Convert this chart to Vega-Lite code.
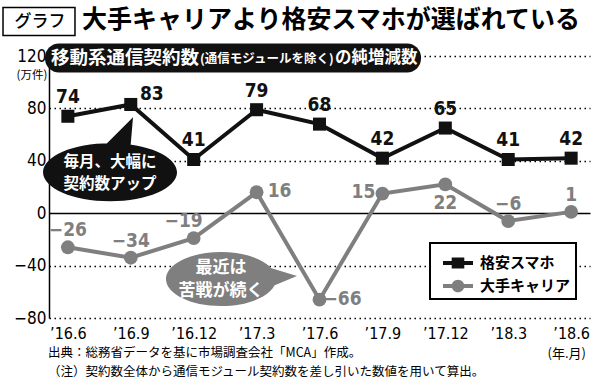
{
  "$schema": "https://vega.github.io/schema/vega-lite/v6.json",
  "width": 541,
  "height": 262,
  "autosize": {"type": "none"},
  "padding": {"left": 49, "top": 56, "right": 10, "bottom": 65},
  "background": "white",
  "config": {"view": {"stroke": null}, "font": "Noto Sans CJK JP"},
  "datasets": {
    "series": [
      {"m": "’16.6", "i": 0, "s": "格安スマホ", "v": 74},
      {"m": "’16.9", "i": 1, "s": "格安スマホ", "v": 83},
      {"m": "’16.12", "i": 2, "s": "格安スマホ", "v": 41},
      {"m": "’17.3", "i": 3, "s": "格安スマホ", "v": 79},
      {"m": "’17.6", "i": 4, "s": "格安スマホ", "v": 68},
      {"m": "’17.9", "i": 5, "s": "格安スマホ", "v": 42},
      {"m": "’17.12", "i": 6, "s": "格安スマホ", "v": 65},
      {"m": "’18.3", "i": 7, "s": "格安スマホ", "v": 41},
      {"m": "’18.6", "i": 8, "s": "格安スマホ", "v": 42},
      {"m": "’16.6", "i": 0, "s": "大手キャリア", "v": -26},
      {"m": "’16.9", "i": 1, "s": "大手キャリア", "v": -34},
      {"m": "’16.12", "i": 2, "s": "大手キャリア", "v": -19},
      {"m": "’17.3", "i": 3, "s": "大手キャリア", "v": 16},
      {"m": "’17.6", "i": 4, "s": "大手キャリア", "v": -66},
      {"m": "’17.9", "i": 5, "s": "大手キャリア", "v": 15},
      {"m": "’17.12", "i": 6, "s": "大手キャリア", "v": 22},
      {"m": "’18.3", "i": 7, "s": "大手キャリア", "v": -6},
      {"m": "’18.6", "i": 8, "s": "大手キャリア", "v": 1}
    ]
  },
  "layer": [
    {
      "data": {"name": "series"},
      "mark": {"type": "line", "strokeWidth": 4},
      "encoding": {
        "x": {
          "field": "i", "type": "quantitative",
          "scale": {"domain": [-0.3, 8.3], "nice": false, "zero": false},
          "axis": {
            "title": null, "values": [0, 1, 2, 3, 4, 5, 6, 7, 8],
            "labelExpr": "['’16.6','’16.9','’16.12','’17.3','’17.6','’17.9','’17.12','’18.3','’18.6'][datum.value]",
            "domain": false, "ticks": false, "grid": false,
            "labelFont": "DejaVu Sans Condensed", "labelFontSize": 16, "labelColor": "black",
            "labelPadding": 7, "labelFlush": false, "labelOverlap": false
          }
        },
        "y": {
          "field": "v", "type": "quantitative",
          "scale": {"domain": [-80, 120], "nice": false},
          "axis": {
            "title": null, "values": [-80, -40, 0, 40, 80, 120],
            "domainColor": "black", "domainWidth": 1.5, "ticks": false,
            "labelPadding": 3, "labelFont": "DejaVu Sans Condensed", "labelFontSize": 17, "labelColor": "black",
            "grid": true, "gridColor": "black", "gridWidth": 1.4,
            "gridDash": {"condition": {"test": "datum.value === 0", "value": []}, "value": [1.5, 3.5]}
          }
        },
        "color": {
          "field": "s", "type": "nominal",
          "scale": {"domain": ["格安スマホ", "大手キャリア"], "range": ["#111111", "#7f7f7f"]},
          "legend": {
            "title": null, "orient": "none", "legendX": 381, "legendY": 187, "direction": "vertical",
            "fillColor": "white", "strokeColor": "black", "padding": 5,
            "symbolType": "M-1,-0.14H1V0.14H-1Z M-0.42,-0.36H0.42V0.36H-0.42Z",
            "symbolSize": 900, "symbolOffset": 8, "rowPadding": -8, "labelOffset": 7,
            "symbolStrokeWidth": 0,
            "labelFont": "Noto Sans CJK JP", "labelFontSize": 15, "labelFontWeight": "bold", "labelColor": "black", "labelLimit": 200,
            "encode": {
              "symbols": {"update": {
                "shape": {"signal": "datum.value === '格安スマホ' ? 'M-1,-0.14H1V0.14H-1Z M-0.42,-0.36H0.42V0.36H-0.42Z' : 'M-1,-0.14H1V0.14H-1Z M-0.42,0A0.42,0.42 0 1,1 0.42,0A0.42,0.42 0 1,1 -0.42,0Z'"},
                "fill": {"signal": "datum.value === '格安スマホ' ? '#111111' : '#7f7f7f'"},
                "stroke": {"value": "transparent"},
                "strokeWidth": {"value": 0},
                "opacity": {"value": 1}
              }},
              "legend": {"update": {"strokeWidth": {"value": 2}}}
            }
          }
        }
      }
    },
    {
      "data": {"name": "series"},
      "transform": [{"filter": "datum.s === '格安スマホ'"}],
      "mark": {"type": "point", "shape": "square", "filled": true, "opacity": 1, "size": 170, "strokeWidth": 0},
      "encoding": {
        "x": {"field": "i", "type": "quantitative"},
        "y": {"field": "v", "type": "quantitative"},
        "color": {"field": "s", "type": "nominal"}
      }
    },
    {
      "data": {"name": "series"},
      "transform": [{"filter": "datum.s === '大手キャリア'"}],
      "mark": {"type": "point", "shape": "circle", "filled": true, "opacity": 1, "size": 190, "strokeWidth": 0},
      "encoding": {
        "x": {"field": "i", "type": "quantitative"},
        "y": {"field": "v", "type": "quantitative"},
        "color": {"field": "s", "type": "nominal"}
      }
    },
    {
      "data": {"name": "series"},
      "transform": [{"filter": "datum.s === '格安スマホ' && datum.m !== '’16.9'"}],
      "mark": {"type": "text", "font": "DejaVu Sans Condensed", "fontWeight": "bold", "fontSize": 19, "color": "#111111", "baseline": "middle", "dy": -19},
      "encoding": {"x": {"field": "i", "type": "quantitative"}, "y": {"field": "v", "type": "quantitative"}, "text": {"field": "v", "type": "quantitative", "format": "d"}}
    },
    {
      "data": {"name": "series"},
      "transform": [{"filter": "datum.s === '格安スマホ' && datum.m === '’16.9'"}],
      "mark": {"type": "text", "font": "DejaVu Sans Condensed", "fontWeight": "bold", "fontSize": 19, "color": "#111111", "baseline": "middle", "dx": 21, "dy": -10},
      "encoding": {"x": {"field": "i", "type": "quantitative"}, "y": {"field": "v", "type": "quantitative"}, "text": {"field": "v", "type": "quantitative", "format": "d"}}
    },
    {
      "data": {"name": "series"},
      "transform": [{"filter": "datum.s === '大手キャリア' && indexof(['’16.6','’16.9','’18.3','’18.6'], datum.m) >= 0"}],
      "mark": {"type": "text", "font": "DejaVu Sans Condensed", "fontWeight": "bold", "fontSize": 19, "color": "#7f7f7f", "baseline": "middle", "dy": -17},
      "encoding": {"x": {"field": "i", "type": "quantitative"}, "y": {"field": "v", "type": "quantitative"}, "text": {"field": "v", "type": "quantitative", "format": "d"}}
    },
    {
      "data": {"name": "series"},
      "transform": [{"filter": "datum.s === '大手キャリア' && datum.m === '’16.12'"}],
      "mark": {"type": "text", "font": "DejaVu Sans Condensed", "fontWeight": "bold", "fontSize": 19, "color": "#7f7f7f", "baseline": "middle", "dx": -10, "dy": -17},
      "encoding": {"x": {"field": "i", "type": "quantitative"}, "y": {"field": "v", "type": "quantitative"}, "text": {"field": "v", "type": "quantitative", "format": "d"}}
    },
    {
      "data": {"name": "series"},
      "transform": [{"filter": "datum.s === '大手キャリア' && indexof(['’17.3','’17.6'], datum.m) >= 0"}],
      "mark": {"type": "text", "font": "DejaVu Sans Condensed", "fontWeight": "bold", "fontSize": 19, "color": "#7f7f7f", "baseline": "middle", "dx": 23, "dy": -1},
      "encoding": {"x": {"field": "i", "type": "quantitative"}, "y": {"field": "v", "type": "quantitative"}, "text": {"field": "v", "type": "quantitative", "format": "d"}}
    },
    {
      "data": {"name": "series"},
      "transform": [{"filter": "datum.s === '大手キャリア' && datum.m === '’17.9'"}],
      "mark": {"type": "text", "font": "DejaVu Sans Condensed", "fontWeight": "bold", "fontSize": 19, "color": "#7f7f7f", "baseline": "middle", "dx": -19, "dy": -2},
      "encoding": {"x": {"field": "i", "type": "quantitative"}, "y": {"field": "v", "type": "quantitative"}, "text": {"field": "v", "type": "quantitative", "format": "d"}}
    },
    {
      "data": {"name": "series"},
      "transform": [{"filter": "datum.s === '大手キャリア' && datum.m === '’17.12'"}],
      "mark": {"type": "text", "font": "DejaVu Sans Condensed", "fontWeight": "bold", "fontSize": 19, "color": "#7f7f7f", "baseline": "middle", "dy": 19},
      "encoding": {"x": {"field": "i", "type": "quantitative"}, "y": {"field": "v", "type": "quantitative"}, "text": {"field": "v", "type": "quantitative", "format": "d"}}
    },
    {
      "data": {"values": [{}]},
      "mark": {"type": "point", "filled": true, "opacity": 1, "size": 4, "strokeWidth": 0, "color": "#111111",
        "shape": "M-67,0A67,29 0 1,1 67,0A67,29 0 1,1 -67,0Z M-12,-20L23,-55L20,-20Z"},
      "encoding": {"x": {"datum": 0.67, "type": "quantitative"}, "y": {"datum": 31.2, "type": "quantitative"}}
    },
    {
      "data": {"values": [{}]},
      "mark": {"type": "text", "text": "毎月、大幅に", "font": "Noto Sans CJK JP", "fontWeight": "bold", "fontSize": 15.5, "color": "white", "align": "center", "baseline": "middle"},
      "encoding": {"x": {"datum": 0.67, "type": "quantitative"}, "y": {"datum": 39.2, "type": "quantitative"}}
    },
    {
      "data": {"values": [{}]},
      "mark": {"type": "text", "text": "契約数アップ", "font": "Noto Sans CJK JP", "fontWeight": "bold", "fontSize": 15.5, "color": "white", "align": "center", "baseline": "middle"},
      "encoding": {"x": {"datum": 0.67, "type": "quantitative"}, "y": {"datum": 22.6, "type": "quantitative"}}
    },
    {
      "data": {"values": [{}]},
      "mark": {"type": "point", "filled": true, "opacity": 1, "size": 4, "strokeWidth": 0, "color": "#7f7f7f",
        "shape": "M-55,0A55,27 0 1,1 55,0A55,27 0 1,1 -55,0Z M40,-14L76,-3L40,12Z"},
      "encoding": {"x": {"datum": 2.434, "type": "quantitative"}, "y": {"datum": -50.3, "type": "quantitative"}}
    },
    {
      "data": {"values": [{}]},
      "mark": {"type": "text", "text": "最近は", "font": "Noto Sans CJK JP", "fontWeight": "bold", "fontSize": 17, "color": "white", "align": "center", "baseline": "middle"},
      "encoding": {"x": {"datum": 2.434, "type": "quantitative"}, "y": {"datum": -41.5, "type": "quantitative"}}
    },
    {
      "data": {"values": [{}]},
      "mark": {"type": "text", "text": "苦戦が続く", "font": "Noto Sans CJK JP", "fontWeight": "bold", "fontSize": 17, "color": "white", "align": "center", "baseline": "middle"},
      "encoding": {"x": {"datum": 2.434, "type": "quantitative"}, "y": {"datum": -59.4, "type": "quantitative"}}
    },
    {
      "data": {"values": [{}]},
      "mark": {"type": "rect", "fill": "white", "stroke": "black", "strokeWidth": 1.5},
      "encoding": {"x": {"datum": -1.031, "type": "quantitative"}, "x2": {"datum": 0.113}, "y": {"datum": 157.0, "type": "quantitative"}, "y2": {"datum": 135.6}}
    },
    {
      "data": {"values": [{}]},
      "mark": {"type": "text", "text": "グラフ", "font": "Noto Sans CJK JP", "fontWeight": 500, "fontSize": 17, "color": "black", "align": "center", "baseline": "middle"},
      "encoding": {"x": {"datum": -0.443, "type": "quantitative"}, "y": {"datum": 146.3, "type": "quantitative"}}
    },
    {
      "data": {"values": [{}]},
      "mark": {"type": "text", "text": "大手キャリアより格安スマホが選ばれている", "font": "Noto Sans CJK JP", "fontWeight": "bold", "fontSize": 25, "color": "black", "align": "left", "baseline": "middle"},
      "encoding": {"x": {"datum": 0.225, "type": "quantitative"}, "y": {"datum": 147.8, "type": "quantitative"}}
    },
    {
      "data": {"values": [{}]},
      "mark": {"type": "rect", "fill": "#111111", "cornerRadius": 14},
      "encoding": {"x": {"datum": -0.364, "type": "quantitative"}, "x2": {"datum": 5.614}, "y": {"datum": 129.5, "type": "quantitative"}, "y2": {"datum": 107.4}}
    },
    {
      "data": {"values": [{}]},
      "mark": {"type": "text", "text": "移動系通信契約数", "font": "Noto Sans CJK JP", "fontWeight": "bold", "fontSize": 18.5, "color": "white", "align": "left", "baseline": "middle"},
      "encoding": {"x": {"datum": -0.268, "type": "quantitative"}, "y": {"datum": 118.5, "type": "quantitative"}}
    },
    {
      "data": {"values": [{}]},
      "mark": {"type": "text", "text": "(通信モジュールを除く)", "font": "Noto Sans CJK JP", "fontWeight": "bold", "fontSize": 12.5, "color": "white", "align": "left", "baseline": "middle"},
      "encoding": {"x": {"datum": 2.101, "type": "quantitative"}, "y": {"datum": 118.0, "type": "quantitative"}}
    },
    {
      "data": {"values": [{}]},
      "mark": {"type": "text", "text": "の純増減数", "font": "Noto Sans CJK JP", "fontWeight": "bold", "fontSize": 16.5, "color": "white", "align": "left", "baseline": "middle"},
      "encoding": {"x": {"datum": 4.247, "type": "quantitative"}, "y": {"datum": 118.5, "type": "quantitative"}}
    },
    {
      "data": {"values": [{}]},
      "mark": {"type": "text", "text": "(万件)", "font": "Noto Sans CJK JP", "fontSize": 11.5, "color": "black", "align": "center", "baseline": "middle"},
      "encoding": {"x": {"datum": -0.57, "type": "quantitative"}, "y": {"datum": 105.1, "type": "quantitative"}}
    },
    {
      "data": {"values": [{}]},
      "mark": {"type": "text", "text": "(年.月)", "font": "Noto Sans CJK JP", "fontSize": 13, "color": "black", "align": "center", "baseline": "middle"},
      "encoding": {"x": {"datum": 7.93, "type": "quantitative"}, "y": {"datum": -107.5, "type": "quantitative"}}
    },
    {
      "data": {"values": [{}]},
      "mark": {"type": "text", "text": "出典：総務省データを基に市場調査会社「MCA」作成。", "font": "Noto Sans CJK JP", "fontSize": 12.5, "color": "black", "align": "left", "baseline": "middle"},
      "encoding": {"x": {"datum": -0.316, "type": "quantitative"}, "y": {"datum": -106.7, "type": "quantitative"}}
    },
    {
      "data": {"values": [{}]},
      "mark": {"type": "text", "text": "（注）契約数全体から通信モジュール契約数を差し引いた数値を用いて算出。", "font": "Noto Sans CJK JP", "fontWeight": "normal", "fontSize": 12.5, "color": "black", "align": "left", "baseline": "middle"},
      "encoding": {"x": {"datum": -0.316, "type": "quantitative"}, "y": {"datum": -121.1, "type": "quantitative"}}
    }
  ]
}
